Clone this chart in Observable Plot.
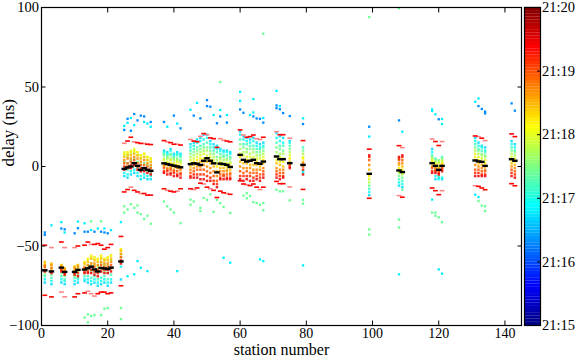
<!DOCTYPE html>
<html><head><meta charset="utf-8">
<script src="https://cdn.jsdelivr.net/npm/d3@7"></script>
<script src="https://cdn.jsdelivr.net/npm/@observablehq/plot@0.6"></script>
<style>
html,body{margin:0;padding:0;background:#fff;}
#wrap{position:relative;width:581px;height:359px;}
#wrap svg{position:absolute;left:0;top:0;}
</style></head><body><div id="wrap"></div>
<script>
// measurement times (minutes after 21:00) shared by every station column
const times = [16.7, 16.95, 17.2, 17.45, 17.7, 17.95, 18.2, 18.45, 18.7, 18.95, 19.2, 19.45];

const stations = [1,3,6,7,10,11,13,14,15,16,17,18,19,20,21,24,
  25,26,27,28,29,30,31,32,33,
  37,38,39,40,41,42,
  45,46,47,48,49,50,51,52,53,54,55,56,57,
  60,61,62,63,64,65,66,67,
  71,72,73,75,79,
  99,108,109,118,119,120,121,131,132,133,134,142,143];

// delay (ns) of each station at each of the shared times
const columns = [
  [-73,-71,-69,-68,-66,-63,-61,-60,-62,-63,-65,-66],
  [-74,-72,-70,-68,-66,-64,-62,-61,-62,-64,-66,-67],
  [-73,-71,-69,-67,-65,-63,-62,-62,-63,-64,-65,-66],
  [-74,-72,-71,-69,-68,-66,-64,-64,-65,-66,-67,-68],
  [-74,-72,-70,-69,-67,-65,-63,-63,-64,-66,-67,-68],
  [-73,-71,-70,-68,-66,-64,-62,-62,-63,-65,-67,-69],
  [-72,-71,-69,-67,-64,-61,-60,-61,-63,-64,-66,-67],
  [-73,-71,-69,-66,-62,-59,-58,-60,-62,-64,-66,-67],
  [-74,-72,-70,-66,-61,-57,-56,-58,-61,-63,-65,-67],
  [-73,-71,-69,-66,-62,-58,-57,-59,-61,-63,-66,-68],
  [-75,-73,-71,-67,-63,-59,-58,-60,-62,-65,-67,-69],
  [-74,-72,-70,-66,-61,-57,-56,-58,-60,-62,-64,-66],
  [-73,-71,-69,-66,-62,-59,-58,-59,-61,-63,-65,-67],
  [-75,-73,-71,-67,-62,-58,-57,-59,-61,-63,-65,-67],
  [-73,-71,-68,-64,-59,-56,-56,-58,-60,-62,-64,-66],
  [-71,-63,-60,-57,-55,-53,-52,-53,-55,-57,-59,-61],
  [-6,-4,-1,3,7,9,8,6,4,2,0,-2],
  [-7,-5,-2,2,6,8,9,7,5,2,0,-1],
  [-5,-3,0,4,8,10,9,7,5,3,1,-1],
  [-4,-2,1,5,9,11,10,8,6,4,2,1],
  [-6,-4,-1,3,7,9,9,7,5,2,0,-2],
  [-8,-6,-3,1,5,7,7,5,3,1,-1,-3],
  [-7,-5,-2,2,6,8,8,6,4,1,-1,-3],
  [-8,-6,-3,1,4,6,6,4,2,0,-2,-4],
  [-8,-6,-4,0,3,5,5,3,1,-1,-3,-5],
  [10,9,8,7,5,4,2,1,0,-1,-3,-4],
  [9,8,7,6,5,3,2,1,-1,-2,-3,-5],
  [11,10,8,7,5,4,2,0,-1,-2,-4,-5],
  [8,7,6,5,4,2,1,0,-2,-3,-4,-6],
  [9,8,7,5,4,3,1,0,-1,-3,-5,-6],
  [8,7,6,4,3,2,0,-1,-2,-4,-5,-7],
  [14,12,10,8,6,4,2,0,-2,-4,-6,-7],
  [15,13,11,9,7,5,3,1,-1,-3,-5,-7],
  [17,15,12,10,8,6,4,2,0,-2,-5,-7],
  [18,16,13,11,9,7,5,3,0,-2,-5,-8],
  [20,17,14,12,10,8,5,3,1,-2,-5,-8],
  [20,18,15,12,10,7,5,3,0,-3,-6,-9],
  [16,14,12,10,8,6,4,2,-1,-4,-7,-9],
  [14,12,10,8,6,4,2,0,-3,-6,-9,-11],
  [13,11,9,6,4,2,0,-3,-6,-9,-11,-13],
  [11,10,8,6,5,3,1,-1,-3,-5,-7,-8],
  [10,9,7,6,4,2,1,-1,-3,-5,-6,-8],
  [10,9,7,5,4,2,0,-2,-3,-5,-7,-8],
  [9,8,6,5,3,2,0,-2,-4,-5,-7,-8],
  [22,20,17,14,11,8,6,3,0,-3,-6,-8],
  [19,17,14,12,9,7,4,2,-1,-4,-6,-9],
  [18,16,14,11,9,6,4,2,-1,-3,-6,-8],
  [17,15,13,11,8,6,4,1,-1,-4,-6,-9],
  [18,16,13,11,9,6,4,1,-2,-4,-7,-9],
  [15,13,11,9,7,5,3,1,-2,-4,-6,-8],
  [14,12,11,9,7,5,2,0,-2,-5,-7,-9],
  [15,13,12,10,8,6,4,2,-1,-3,-5,-7],
  [21,18,15,12,9,6,4,2,-1,-3,-5,-7],
  [19,16,13,11,8,6,3,1,-2,-4,-6,-8],
  [18,15,13,10,8,5,3,0,-2,-4,-6,-7],
  [16,15,13,11,9,7,5,3,2,1,0,-1],
  [-3,-4,12,10,8,6,5,3,2,0,-2,-5],
  [-18,-16,-14,-12,-10,-8,-6,-2,1,4,6,7],
  [-12,-10,-8,-6,-4,-3,-1,1,2,4,5,6],
  [-13,-11,-9,-7,-5,-4,-2,0,2,4,6,7],
  [11,9,7,6,5,4,3,2,0,-1,-3,-4],
  [-8,-6,5,4,3,2,1,0,-1,-2,-3,-4],
  [-7,-8,-6,4,3,2,0,-1,-2,-3,-4,-5],
  [-8,-7,6,5,4,3,2,1,0,-1,-2,-3],
  [18,16,14,12,10,8,6,4,1,-2,-4,-6],
  [15,13,11,10,8,6,4,2,0,-2,-4,-6],
  [13,12,10,8,7,5,3,1,-1,-3,-5,-6],
  [12,10,9,7,6,4,2,0,-2,-3,-5,-6],
  [16,14,12,10,8,6,4,2,0,-2,-4,-6],
  [14,12,10,9,7,5,3,1,-1,-3,-5,-7]
];

// mean delay per station (black dashes)
const means = [-65.3,-66,-63.6,-66.3,-66.3,-65,-64.8,-64,-63,-64.7,-66,-63.8,-64.1,-64.5,-63.6,-59.7,
  -1.5,-0.6,0,2.1,0.4,-2.1,-1,-2.1,-2.7,
  2,1.5,1,0.5,0,-0.5,
  1.5,2,1.7,1,3.6,5.2,3.6,2,-3.7,1.8,1.5,1,-0.3,
  7.3,4.2,3.1,3.6,4.2,2.1,1.7,3.1,
  6.3,4.6,4.6,2.1,1,
  -4.6,-2.5,-3.5,2.1,0.4,-2.1,0.4,3.8,3.2,2.9,0.4,4.6,3.6];

// upper / lower bounds per station (red dashes); pale = 1 for the lighter red
const upper = [-49.5,-51,-47.5,-51,-51,-50,-49.5,-47.5,-49,-49,-48.5,-49.5,-52,-51,-49,-44,
  14.6,16,18.4,15.5,15,14.5,14.5,14,13.8,
  16.3,15.5,15,14,14,13.5,
  17,16,15.6,19,20.7,20,18,17.5,12,17.5,16.5,16,15.5,
  23,19.8,18.4,18.8,19.8,17.5,17,18.4,
  21.9,20,20,17.8,16.3,
  10.9,13.1,11.9,17.3,15.7,13.2,15.7,19.2,18.8,17.8,16.3,20.5,18.8];
const upperPale = [0,1,0,1,1,0,0,0,1,0,0,0,0,0,0,0,
  1,0,0,1,0,0,1,0,0,
  0,1,0,0,1,0,
  1,0,0,1,0,1,0,0,0,1,1,0,0,
  0,1,0,0,0,1,1,0,
  1,0,0,1,0,
  0,0,1,1,0,0,1,0,1,0,1,0,0];
const lower = [-81,-82,-79,-82,-82,-80,-79.5,-78.5,-80,-81.5,-80,-79,-79,-80,-79.5,-75,
  -16,-14.5,-13,-15,-16,-17,-17,-18,-18,
  -14,-15,-15.5,-16,-15.5,-14,
  -14,-14.5,-13.5,-10.5,-11,-13,-14,-15,-19.5,-15.5,-16.5,-17,-17.5,
  -9,-11,-11.5,-12,-11,-13,-14.5,-13,
  -9.4,-10.8,-10.8,-12.9,-14.4,
  -20,-18.3,-19.3,-13.5,-15.2,-17.7,-15.2,-12.1,-12.5,-13.5,-14.6,-10.8,-12.1];
const lowerPale = [0,0,1,1,0,0,0,1,1,1,0,0,0,0,0,0,
  0,0,1,0,0,1,0,0,0,
  0,1,0,0,1,0,
  0,1,0,0,1,0,1,0,0,0,0,1,0,
  0,0,1,0,0,0,1,0,
  0,0,0,1,0,
  0,1,0,0,0,0,1,1,0,0,0,0,0];

// stray measurements: [station, delay, time]
const outliers = [
  [1,-41.5,16.3],[1,-43,16.3],[3,-37,16.8],[6,-35,16.8],[6,-39,16.3],[7,-39.5,16.3],[7,-41.5,16.8],[10,-42,16.3],
  [11,-38.8,16.3],[11,-34.6,16.8],[13,-41,16.3],[13,-35.7,16.8],[14,-41,16.3],[15,-40,16.8],[15,-34.5,17.4],
  [16,-41,16.3],[17,-39,16.8],[18,-34.5,17.4],[18,-41,16.3],[19,-39,16.8],[19,-41.5,16.3],[20,-42,16.3],[21,-40,16.8],[24,-35,16.8],
  [13,-95,17.4],[14,-93,17.4],[14,-98,17.4],[15,-94,17.4],[16,-93.5,17.4],[18,-93.5,17.4],[19,-89.5,17.4],[20,-89,17.4],[24,-89,17.4],[24,-96,17.4],
  [25,23,16.3],[25,25.5,16.8],[26,27.5,16.8],[26,30,16.3],[27,22.5,16.3],[27,30.5,16.8],[28,33,16.3],[28,26,16.8],[29,29,16.3],
  [30,32,16.3],[31,31.5,16.3],[31,28,16.8],[32,27,16.8],[33,25,16.8],[33,28,16.3],
  [25,-29,17.4],[25,-25,17.4],[26,-27,17.4],[27,-23.7,17.4],[28,-26,17.4],[29,-24.5,17.4],[29,-29,17.4],[30,-30,17.4],[31,-33,17.4],[32,-31,17.4],[33,-36,17.4],
  [29,-59.5,16.8],[30,-63.7,16.8],[32,-65.8,16.8],[28,-67.8,16.8],[26,-69,16.8],
  [37,28,16.3],[38,25,16.8],[40,32,16.3],[41,27,16.8],[42,24,16.3],
  [37,-22,17.4],[38,-25,17.4],[39,-27,17.4],[40,-29,17.4],[42,-35.6,17.4],[41,-65.8,16.8],
  [45,35.7,16.8],[46,32,16.3],[47,40,16.8],[48,30.3,16.3],[50,41.7,16.3],[50,38,16.3],[51,37.6,16.3],[52,32.4,16.8],[53,27.2,16.3],
  [54,35.5,16.8],[54,31.5,16.3],[54,53.2,17.4],[56,32.4,16.8],[56,27.6,16.3],
  [45,-20.8,17.4],[45,-24,17.4],[46,-22,17.4],[48,-26,17.4],[48,-28,17.4],[49,-19.8,17.4],[50,-21,17.4],[51,-17.5,17.4],[52,-28.5,17.4],
  [53,-21,17.4],[54,-23,17.4],[55,-25.5,17.4],[57,-29.2,17.4],[55,-57.4,16.8],[57,-60.5,16.8],
  [60,47,16.8],[60,41.3,16.8],[60,35.9,16.3],[61,33.8,16.3],[63,32.4,16.8],[64,42.4,16.8],[64,34,16.8],[64,31.5,16.3],[65,30.2,16.3],
  [66,30,16.3],[67,30.5,16.8],[67,27.6,16.3],[67,83.5,17.4],
  [61,-18.3,17.4],[62,-16.7,17.4],[62,-20,17.4],[63,-18.5,17.4],[64,-22.4,17.4],[65,-23,17.4],[66,-24,17.4],[67,-23,17.4],[67,-27.5,17.4],
  [66,-58.4,16.8],[67,-59.5,16.8],
  [71,47.6,16.8],[71,38.4,16.3],[71,36.7,16.3],[72,38,16.8],[72,36,16.3],[73,33.6,16.3],[75,31.7,16.3],[79,30.3,16.8],[79,26.7,16.3],
  [71,-14.6,17.4],[72,-15.6,17.4],[73,-15.6,17.4],[75,-21.3,17.4],[79,-21,17.4],[79,-23.3,17.4],[79,-62.2,16.8],
  [99,25,16.3],[99,18.8,16.8],[99,94,17.4],[99,-39.6,17.4],[99,-42.8,17.4],
  [108,29,16.3],[109,21.9,16.8],[108,99.5,17.4],[109,-14.6,17.4],[108,-33.4,17.4],[108,-38.4,17.4],[108,-67.8,16.8],
  [118,35.9,16.8],[118,34.9,16.8],[119,32.8,16.8],[120,29.7,16.3],[121,29.9,16.8],[121,26.7,16.8],
  [118,-20.8,16.8],[118,-29,17.4],[119,-29,17.4],[119,-31,17.4],[120,-32,17.4],[121,-35,17.4],[120,-64.7,16.8],[121,-67.4,16.8],
  [131,40.7,16.8],[132,42.8,16.8],[132,38,16.3],[133,36.2,16.3],[134,34.5,16.3],[134,33.4,16.3],
  [131,-17.7,16.8],[132,-19.2,16.8],[132,-21.7,17.4],[133,-24.6,17.4],[134,-25,17.4],[134,-28,17.4],
  [142,39.7,16.3],[143,35.1,16.3]
];

const xTicks = [0,20,40,60,80,100,120,140];
const yTicks = [-100,-50,0,50,100];
const barTicks = [15,16,17,18,19,20];

// ---- build tables ----
const colRows = [];
stations.forEach((s, i) => columns[i].forEach((d, j) => colRows.push({station: s, delay: d, time: times[j]})));
colRows.sort((a, b) => a.time - b.time);
const outRows = outliers.map(([station, delay, time]) => ({station, delay, time}));
const meanRows = stations.map((s, i) => ({station: s, delay: means[i]}));
const boundRows = stations.flatMap((s, i) => [
  {station: s, delay: upper[i], pale: upperPale[i]},
  {station: s, delay: lower[i], pale: lowerPale[i]}
]);

const jet = t => {
  const c = v => Math.round(255 * Math.max(0, Math.min(1, v)));
  return `rgb(${c(1.5 - Math.abs(4*t - 3))},${c(1.5 - Math.abs(4*t - 2))},${c(1.5 - Math.abs(4*t - 1))})`;
};
const colorScale = {type: "linear", domain: [15, 20], interpolate: jet};
const dash = (w, h) => ({draw(ctx) { ctx.rect(-w/2, -h/2, w, h); }});
const font = "'Liberation Serif', 'Times New Roman', serif";
const minus = d => d < 0 ? "\u2212" + (-d) : String(d);

const main = Plot.plot({
  width: 581, height: 359,
  marginLeft: 41, marginRight: 60, marginTop: 7, marginBottom: 34,
  style: {fontFamily: font, fontSize: "14.5px", background: "transparent", color: "#000"},
  x: {domain: [0, 145]},
  y: {domain: [-100, 100]},
  color: colorScale,
  marks: [
    Plot.dot(outRows, {x: "station", y: "delay", fill: "time", symbol: "square", r: 1.3, clip: true}),
    Plot.dot(colRows, {x: "station", y: "delay", fill: "time", symbol: "square", r: 1.4, fillOpacity: 0.85}),
    Plot.dot(boundRows.filter(d => d.pale), {x: "station", y: "delay", fill: "#ff8585", symbol: dash(4.8, 1.6)}),
    Plot.dot(boundRows.filter(d => !d.pale), {x: "station", y: "delay", fill: "#ff0000", symbol: dash(4.8, 1.6)}),
    Plot.dot(meanRows, {x: "station", y: "delay", fill: "#000", symbol: dash(5.5, 2.4)}),
    Plot.frame({stroke: "#000", strokeWidth: 1.2}),
    Plot.axisX({anchor: "bottom", ticks: xTicks, tickSize: -4.5, tickPadding: 7, fontSize: 14, label: null, tickFormat: d => String(d)}),
    Plot.axisX({anchor: "top", ticks: xTicks, tickSize: -4.5, label: null, tickFormat: () => ""}),
    Plot.axisY({anchor: "left", ticks: yTicks, tickSize: -4.5, tickPadding: 7, label: null, tickFormat: minus}),
    Plot.axisY({anchor: "right", ticks: yTicks, tickSize: -4.5, label: null, tickFormat: () => ""}),
    Plot.text(["station number"], {frameAnchor: "bottom", dy: 29.5, fontSize: 16, text: d => d}),
    Plot.text(["delay (ns)"], {frameAnchor: "left", dx: -33, rotate: -90, fontSize: 17, text: d => d})
  ]
});

const barSteps = d3.range(0, 100).map(i => 15 + i * 0.05);
const bar = Plot.plot({
  width: 581, height: 359,
  marginLeft: 524, marginRight: 41, marginTop: 7, marginBottom: 34,
  style: {fontFamily: font, fontSize: "14.5px", background: "transparent", color: "#000"},
  x: {domain: [0, 1], axis: null},
  y: {domain: [15, 20]},
  color: colorScale,
  marks: [
    Plot.rect(barSteps, {x1: 0, x2: 1, y1: d => d, y2: d => d + 0.052, fill: d => d + 0.025}),
    Plot.frame({stroke: "#000", strokeWidth: 1.2}),
    Plot.axisY({anchor: "right", ticks: barTicks, tickSize: -4, tickPadding: 5.5, label: null, tickFormat: d => "21:" + d})
  ]
});

const wrap = document.getElementById("wrap");
wrap.appendChild(main);
wrap.appendChild(bar);
</script>
</body></html>
